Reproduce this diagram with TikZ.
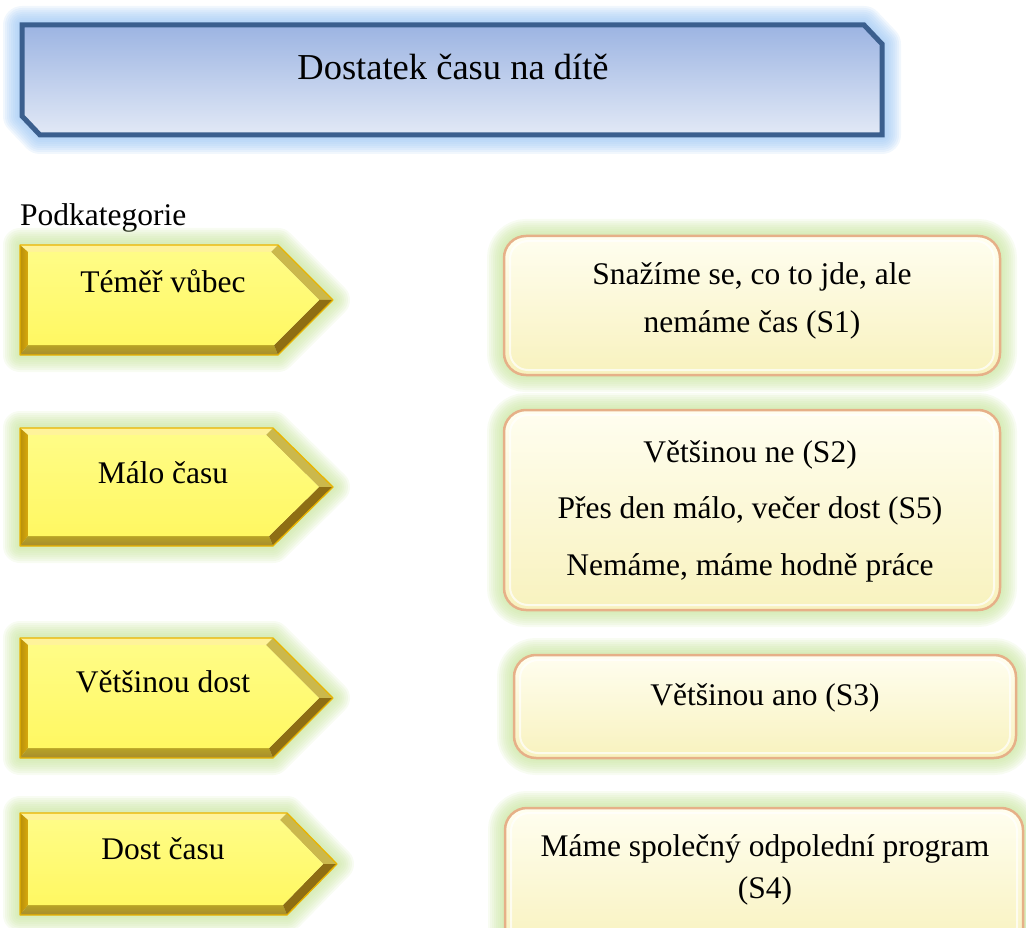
\documentclass[tikz,border=0pt]{standalone}
\usepackage{fontspec}
\setmainfont{Liberation Serif}
\definecolor{ttlborder}{HTML}{3B5F8E}
\definecolor{ttltop}{HTML}{9CB4E2}
\definecolor{ttlbot}{HTML}{E2E9F6}
\definecolor{ttlglow}{HTML}{9CC6F4}
\definecolor{yface}{HTML}{FFF862}
\definecolor{yfacetop}{HTML}{FFFC86}
\definecolor{ytop}{HTML}{FFF39A}
\definecolor{yleft}{HTML}{D8A90C}
\definecolor{ybot}{HTML}{A68C2E}
\definecolor{yrup}{HTML}{CBB84C}
\definecolor{yrlow}{HTML}{8E6E14}
\definecolor{yline}{HTML}{E9B400}
\definecolor{gglow}{HTML}{C6E49A}
\definecolor{bface}{HTML}{F8F2BE}
\definecolor{btop}{HTML}{FFFEF0}
\definecolor{bline}{HTML}{E6B088}
\tikzset{
  bodytext/.style={font=\fontsize{31.5}{37}\selectfont, anchor=base, inner sep=0pt},
  titletext/.style={font=\fontsize{36.5}{42}\selectfont, anchor=base, inner sep=0pt},
}
\newcommand\yellowarrow[7]{%
  \coordinate (#1A) at (20,#2);
  \coordinate (#1B) at (#4,#2);
  \coordinate (#1C) at (#5,{(#2+#3)/2});
  \coordinate (#1D) at (#4,#3);
  \coordinate (#1E) at (20,#3);
  \coordinate (#1a) at (28,{#2+7});
  \coordinate (#1b) at ({#4-7},{#2+7});
  \coordinate (#1c) at ({#5-14},{(#2+#3)/2});
  \coordinate (#1d) at ({#4-4},{#3-10});
  \coordinate (#1e) at (28,{#3-10});
  \foreach \w in {34,30,...,6}
    \draw[gglow, line width=\w pt, opacity=0.13, line join=round]
      (#1A) -- (#1B) -- (#1C) -- (#1D) -- (#1E) -- cycle;
  \fill[ytop] (#1A) -- (#1B) -- (#1b) -- (#1a) -- cycle;
  \shade[left color=yleft!85!black, right color=yleft] (#1A) -- (#1a) -- (#1e) -- (#1E) -- cycle;
  \shade[top color=ybot!80!yellow, bottom color=ybot] (#1E) -- (#1e) -- (#1d) -- (#1D) -- cycle;
  \fill[yrup] (#1B) -- (#1C) -- (#1c) -- (#1b) -- cycle;
  \fill[yrlow] (#1C) -- (#1D) -- (#1d) -- (#1c) -- cycle;
  \shade[top color=yfacetop, bottom color=yface] (#1a) -- (#1b) -- (#1c) -- (#1d) -- (#1e) -- cycle;
  \draw[yline, line width=1.3pt, line join=round] (#1A) -- (#1B) -- (#1C) -- (#1D) -- (#1E) -- cycle;
  \node[bodytext] (#1) at (163,#7) {#6};
}
\newcommand\creambox[5]{%
  \coordinate (#1NW) at (#2,#3);
  \coordinate (#1SE) at (#4,#5);
  \foreach \w in {34,30,...,6}
    \draw[gglow, line width=\w pt, opacity=0.13, rounded corners=22pt]
      (#1NW) rectangle (#1SE);
  \shade[top color=btop, bottom color=bface, rounded corners=22pt] (#1NW) rectangle (#1SE);
  \draw[white, opacity=0.7, line width=2pt, rounded corners=18pt]
      ([shift={(6,5)}]#1NW) rectangle ([shift={(-6,-5)}]#1SE);
  \draw[bline, line width=2.5pt, rounded corners=22pt] (#1NW) rectangle (#1SE);
}
\begin{document}
\begin{tikzpicture}[x=1pt,y=-1pt]
\useasboundingbox (0,0) rectangle (1026,928);
\clip (0,0) rectangle (1026,928);

% title box
\coordinate (t1) at (22,25);
\coordinate (t2) at (864,25);
\coordinate (t3) at (882,44);
\coordinate (t4) at (882,135);
\coordinate (t5) at (40,135);
\coordinate (t6) at (22,116);
\foreach \w in {38,34,...,6}
  \draw[ttlglow, line width=\w pt, opacity=0.14, line join=round]
    (t1) -- (t2) -- (t3) -- (t4) -- (t5) -- (t6) -- cycle;
\shade[top color=ttltop, bottom color=ttlbot] (t1) -- (t2) -- (t3) -- (t4) -- (t5) -- (t6) -- cycle;
\draw[ttlborder, line width=5pt, line join=miter] (t1) -- (t2) -- (t3) -- (t4) -- (t5) -- (t6) -- cycle;
\node[titletext] (title) at (453,80) {Dostatek času na dítě};

\node[bodytext, anchor=base west] (podk) at (20,226) {Podkategorie};

% yellow arrows
\yellowarrow{y1}{245}{355}{278}{333}{Téměř vůbec}{293}
\yellowarrow{y2}{428}{546}{273}{333}{Málo času}{483}
\yellowarrow{y3}{638}{758}{273}{333}{Většinou dost}{692}
\yellowarrow{y4}{813}{915}{287}{337}{Dost času}{859}

% cream boxes
\creambox{c1}{504}{236}{1000}{375}
\node[bodytext] (c1t1) at (752,285) {Snažíme se, co to jde, ale};
\node[bodytext] (c1t2) at (752,332) {nemáme čas (S1)};

\creambox{c2}{504}{410}{1000}{610}
\node[bodytext] (c2t1) at (750,462) {Většinou ne (S2)};
\node[bodytext] (c2t2) at (750,518) {Přes den málo, večer dost (S5)};
\node[bodytext] (c2t3) at (750,575) {Nemáme, máme hodně práce};

\creambox{c3}{514}{655}{1016}{758}
\node[bodytext] (c3t1) at (765,705) {Většinou ano (S3)};

\creambox{c4}{505}{808}{1023}{950}
\node[bodytext] (c4t1) at (765,856) {Máme společný odpolední program};
\node[bodytext] (c4t2) at (765,898) {(S4)};
\end{tikzpicture}
\end{document}
